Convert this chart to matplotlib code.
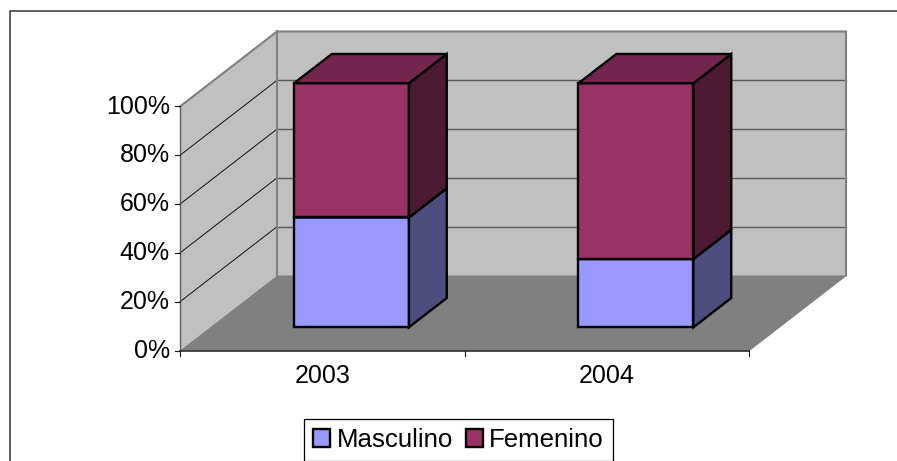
import matplotlib
matplotlib.use("Agg")
import matplotlib.pyplot as plt
from matplotlib.patches import Patch, Polygon

plt.rcParams['font.family'] = ['Liberation Sans', 'DejaVu Sans']

# chart data
years = ['2003', '2004']
masculino = [45, 28]
femenino = [55, 72]
y_ticks = [0, 20, 40, 60, 80, 100]

# colors of the 3d faces
colors = {
    'Masculino': ('#9999FF', '#4D4D80', '#737399'),
    'Femenino': ('#993366', '#4C1A33', '#73264D'),
}

# oblique projection, in pixels
X0, Y0 = 180, 350.5
CAT_W = 284.5
PCT_H = 2.44
DEPTH_X, DEPTH_Y = 97, 75
BAR_C = 0.497
BAR_W = 0.404
BAR_D0, BAR_D1 = 0.31, 0.70
FONT = 18


def project(cat, pct, depth=0):
    return (X0 + cat * CAT_W + depth * DEPTH_X,
            Y0 - pct * PCT_H - depth * DEPTH_Y)


def face(ax, points, color, edge='none', lw=0, z=1):
    ax.add_patch(Polygon(points, closed=True, facecolor=color, edgecolor=edge,
                         linewidth=lw, joinstyle='miter', zorder=z))


def draw_walls(ax, n):
    # back wall, side wall and floor
    face(ax, [project(0, 0, 1), project(n, 0, 1), project(n, 100, 1), project(0, 100, 1)], '#C0C0C0')
    face(ax, [project(0, 0), project(0, 0, 1), project(0, 100, 1), project(0, 100)], '#C0C0C0')
    face(ax, [project(0, 0), project(n, 0), project(n, 0, 1), project(0, 0, 1)], '#808080')

    # gridlines
    for t in y_ticks[1:-1]:
        pts = [project(0, t), project(0, t, 1), project(n, t, 1)]
        ax.plot(*zip(*pts[:2]), color='#1A1A1A', lw=0.75, zorder=2)
        ax.plot(*zip(*pts[1:]), color='#5A5A5A', lw=1.0, zorder=2)

    # wall outlines
    outline = [project(0, 100), project(0, 100, 1), project(n, 100, 1), project(n, 0, 1)]
    ax.plot(*zip(*outline), color='#808080', lw=1.5, zorder=2, solid_joinstyle='miter')
    ax.plot(*zip(project(0, 0, 1), project(0, 100, 1)), color='#808080', lw=1.5, zorder=2)
    ax.plot(*zip(project(n, 0), project(n, 0, 1)), color='#808080', lw=1.0, zorder=2)

    # axes and ticks
    ax.plot(*zip(project(0, 0), project(0, 100)), color='#606060', lw=1.0, zorder=3)
    ax.plot(*zip(project(0, 0), project(n, 0)), color='#1A1A1A', lw=1.1, zorder=3)
    for t in y_ticks:
        x, y = project(0, t)
        ax.plot([x - 5, x], [y, y], color='#1A1A1A', lw=0.8, zorder=3)
        ax.text(x - 10, y, f'{t}%', ha='right', va='center', fontsize=FONT, color='black')
    for c in range(n + 1):
        x, y = project(c, 0)
        ax.plot([x, x], [y, y + 5], color='#1A1A1A', lw=0.8, zorder=3)


def draw_segment(ax, cat, low, high, cols):
    left = cat + BAR_C - BAR_W / 2
    right = cat + BAR_C + BAR_W / 2
    front, side, top = cols
    lw = 1.7
    face(ax, [project(left, low, BAR_D0), project(right, low, BAR_D0),
              project(right, high, BAR_D0), project(left, high, BAR_D0)], front, 'black', lw, 5)
    face(ax, [project(right, low, BAR_D0), project(right, low, BAR_D1),
              project(right, high, BAR_D1), project(right, high, BAR_D0)], side, 'black', lw, 5)
    face(ax, [project(left, high, BAR_D0), project(right, high, BAR_D0),
              project(right, high, BAR_D1), project(left, high, BAR_D1)], top, 'black', lw, 5)


def main():
    fig = plt.figure(figsize=(8.97, 4.61), dpi=100)
    ax = fig.add_axes([0, 0, 1, 1])
    ax.set_xlim(0, 897)
    ax.set_ylim(461, 0)
    ax.axis('off')

    # chart area border
    ax.plot([9.5, 9.5, 897], [461, 11, 11], color='#333333', lw=1.1, solid_joinstyle='miter')

    draw_walls(ax, len(years))

    # stacked bars, lower segment first so the upper one covers its top
    for i, year in enumerate(years):
        draw_segment(ax, i, 0, masculino[i], colors['Masculino'])
        draw_segment(ax, i, masculino[i], masculino[i] + femenino[i], colors['Femenino'])
        x, y = project(i + 0.5, 0)
        ax.text(x, y + 25, year, ha='center', va='center', fontsize=FONT, color='black')

    # legend
    handles = [Patch(facecolor=colors[k][0], edgecolor='black', linewidth=1.7) for k in colors]
    ax.legend(handles, list(colors), loc='center', bbox_to_anchor=(458.5, 440),
              bbox_transform=ax.transData, ncol=2, fontsize=18.6, frameon=True, fancybox=False,
              framealpha=1, edgecolor='black', handlelength=0.66, handleheight=0.66,
              handletextpad=0.25, columnspacing=0.5, borderpad=0.33, borderaxespad=0,
              labelspacing=0).get_frame().set_linewidth(0.9)

    fig.savefig('out.png', dpi=100)


if __name__ == "__main__":
    main()
